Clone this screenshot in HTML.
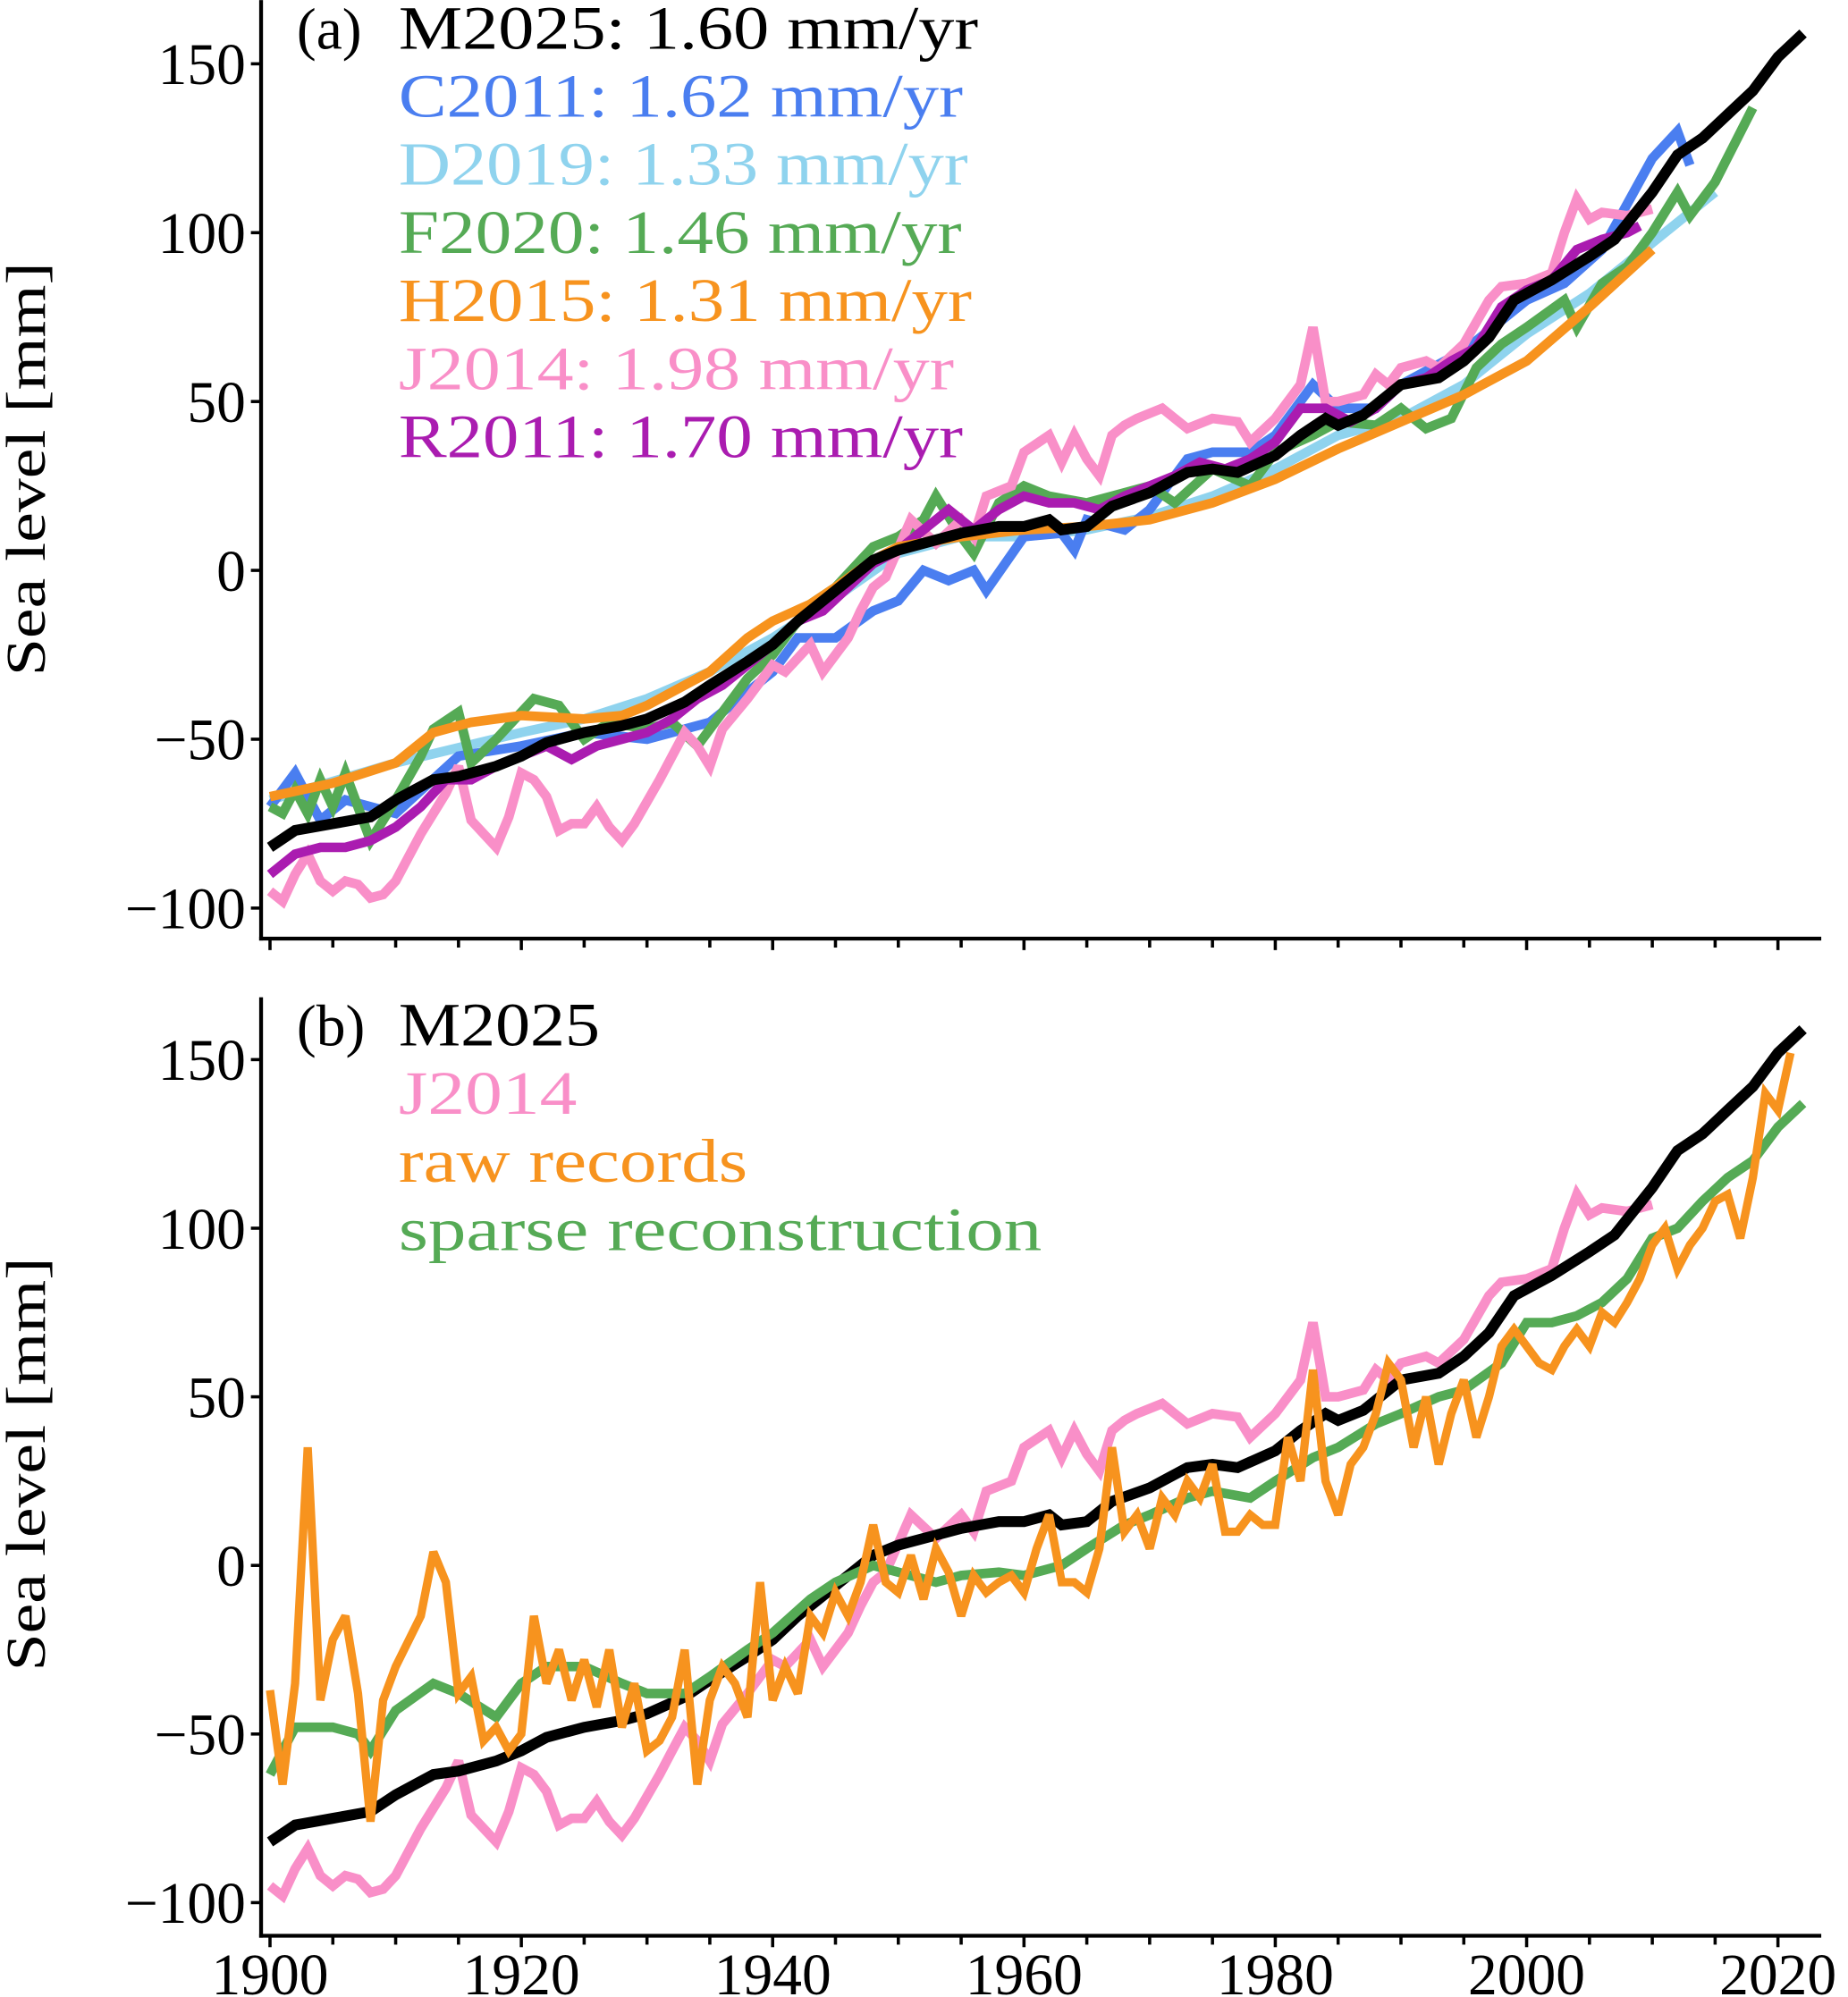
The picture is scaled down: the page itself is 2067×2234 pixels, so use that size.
<!DOCTYPE html>
<html><head><meta charset="utf-8"><style>
html,body{margin:0;padding:0;background:#fff;}
svg{display:block;}
text{font-family:"Liberation Serif","DejaVu Serif",serif;}
</style></head>
<body>
<svg id="chart" width="2067" height="2234" viewBox="0 0 1451 1568" xmlns="http://www.w3.org/2000/svg">
<g id="panelA"></g>
<g id="panelB"></g>
</svg>
<script>
// ---- data ----
const m2025Years=[1900,1902,1905,1908,1910,1913,1915,1918,1920,1922,1925,1928,1930,1933,1935,1938,1940,1942,1945,1948,1950,1953,1955,1958,1960,1962,1963,1965,1967,1970,1973,1975,1977,1980,1982,1984,1985,1987,1990,1993,1995,1997,1999,2002,2005,2007,2010,2012,2014,2016,2018,2020,2022];
const m2025Vals=[-82,-77,-75,-73,-68,-62,-61,-58,-55,-51,-48,-46,-44,-39,-34,-27,-22,-15,-6,3,6,9,11,13,13,15,12,13,19,23,29,30,29,34,40,45,43,46,55,57,62,69,80,86,93,98,112,123,128,135,142,152,159];
const c2011Years=[1900,1902,1904,1906,1910,1915,1920,1925,1930,1935,1940,1942,1945,1948,1950,1952,1954,1956,1957,1960,1963,1964,1965,1968,1970,1973,1975,1978,1980,1983,1985,1988,1990,1995,2000,2003,2006,2010,2012,2013];
const c2011Vals=[-70,-60,-74,-68,-72,-55,-52,-48,-50,-45,-30,-20,-20,-12,-9,0,-3,0,-6,10,11,6,15,12,18,33,35,35,40,55,48,48,55,65,80,85,95,122,130,120];
const d2019Years=[1900,1910,1920,1925,1930,1935,1940,1945,1950,1955,1960,1965,1970,1975,1980,1985,1990,1995,2000,2005,2010,2015];
const d2019Vals=[-68,-57,-48,-44,-38,-30,-20,-8,5,10,10,12,16,22,30,40,45,55,70,82,97,112];
const f2020Years=[1900,1901,1902,1903,1904,1905,1906,1908,1910,1912,1913,1915,1916,1918,1920,1921,1923,1925,1927,1930,1932,1934,1936,1938,1940,1943,1945,1948,1950,1952,1953,1955,1956,1958,1960,1962,1965,1967,1970,1972,1975,1978,1980,1983,1985,1988,1990,1992,1994,1996,1998,2000,2003,2004,2006,2008,2010,2012,2013,2015,2018];
const f2020Vals=[-70,-72,-65,-72,-62,-70,-60,-80,-68,-55,-47,-42,-57,-50,-42,-38,-40,-50,-45,-47,-45,-52,-42,-32,-25,-10,-5,7,10,15,22,10,5,20,25,22,20,22,25,20,30,25,35,40,44,43,48,42,45,60,67,72,80,72,85,90,100,112,105,115,137];
const h2015Years=[1900,1905,1910,1913,1916,1920,1925,1928,1930,1935,1938,1940,1943,1945,1948,1950,1955,1960,1965,1970,1975,1980,1985,1990,1995,2000,2005,2010];
const h2015Vals=[-67,-63,-57,-48,-45,-43,-44,-43,-40,-30,-20,-15,-10,-5,3,7,10,12,13,15,20,27,36,44,52,62,78,95];
const j2014Years=[1900,1901,1902,1903,1904,1905,1906,1907,1908,1909,1910,1912,1914,1915,1916,1918,1919,1920,1921,1922,1923,1924,1925,1926,1927,1928,1929,1931,1932,1933,1934,1935,1936,1938,1940,1941,1943,1944,1946,1947,1948,1949,1951,1953,1955,1956,1957,1959,1960,1962,1963,1964,1965,1966,1967,1968,1969,1971,1972,1973,1975,1977,1978,1980,1982,1983,1984,1985,1987,1988,1989,1990,1992,1993,1995,1997,1998,2000,2002,2003,2004,2005,2006,2008,2010];
const j2014Vals=[-95,-98,-90,-84,-92,-95,-92,-93,-97,-96,-92,-78,-66,-58,-74,-82,-73,-60,-62,-67,-77,-75,-75,-70,-76,-80,-75,-62,-55,-48,-52,-58,-47,-38,-28,-30,-22,-30,-20,-12,-5,-2,15,8,15,10,22,25,35,40,32,40,33,28,40,43,45,48,45,42,45,44,38,45,55,72,50,50,52,58,55,60,62,60,67,80,84,85,88,100,110,104,106,105,107];
const r2011Years=[1900,1902,1904,1906,1908,1910,1912,1914,1916,1918,1920,1922,1924,1926,1928,1930,1932,1934,1936,1938,1940,1942,1944,1946,1948,1950,1952,1954,1956,1958,1960,1962,1964,1966,1968,1970,1972,1974,1976,1978,1980,1982,1984,1986,1988,1990,1992,1994,1996,1998,2000,2002,2004,2006,2008,2009];
const r2011Vals=[-90,-84,-82,-82,-80,-76,-70,-62,-62,-58,-55,-52,-56,-52,-50,-48,-44,-38,-34,-28,-22,-15,-12,-5,2,6,12,18,12,18,22,20,20,18,22,25,28,32,30,33,38,48,48,44,48,55,57,62,66,78,83,86,95,98,100,102];
const sparseYears=[1900,1902,1905,1907,1908,1910,1913,1915,1918,1920,1922,1925,1928,1930,1933,1935,1938,1940,1943,1945,1948,1950,1953,1955,1958,1960,1963,1965,1968,1970,1973,1975,1978,1980,1983,1985,1988,1990,1993,1995,1998,2000,2002,2004,2006,2008,2010,2012,2014,2016,2018,2020,2022];
const sparseVals=[-62,-48,-48,-50,-55,-43,-35,-38,-45,-35,-30,-30,-35,-38,-38,-33,-25,-20,-10,-5,0,-2,-5,-3,-2,-3,0,5,12,15,20,22,20,25,32,35,42,45,50,52,60,72,72,74,78,85,97,100,108,115,120,130,137];
const rawYears=[1900,1901,1902,1903,1904,1905,1906,1907,1908,1909,1910,1912,1913,1914,1915,1916,1917,1918,1919,1920,1921,1922,1923,1924,1925,1926,1927,1928,1929,1930,1931,1932,1933,1934,1935,1936,1937,1938,1939,1940,1941,1942,1943,1944,1945,1946,1947,1948,1949,1950,1951,1952,1953,1954,1955,1956,1957,1958,1959,1960,1961,1962,1963,1964,1965,1966,1967,1968,1969,1970,1971,1972,1973,1974,1975,1976,1977,1978,1979,1980,1981,1982,1983,1984,1985,1986,1987,1988,1989,1990,1991,1992,1993,1994,1995,1996,1997,1998,1999,2000,2001,2002,2003,2004,2005,2006,2007,2008,2009,2010,2011,2012,2013,2014,2015,2016,2017,2018,2019,2020,2021];
const rawVals=[-37,-65,-35,35,-40,-22,-15,-38,-76,-40,-30,-15,4,-5,-38,-33,-52,-48,-55,-50,-15,-35,-25,-40,-28,-42,-25,-48,-35,-55,-52,-45,-25,-65,-40,-30,-35,-45,-5,-40,-30,-38,-15,-20,-8,-15,-5,12,-5,-8,3,-10,5,-2,-15,-3,-8,-5,-3,-8,5,15,-5,-5,-8,5,35,10,15,5,20,15,25,20,30,10,10,15,12,12,38,25,58,25,15,30,35,45,60,55,35,50,30,45,55,38,50,65,70,65,60,58,65,70,65,75,72,78,85,95,100,88,95,100,108,110,97,115,140,135,152];
const xTicks=[1900,1920,1940,1960,1980,2000,2020];
const yTicks=[-100,-50,0,50,100,150];
const yTickLabels=["\u2212100","\u221250","0","50","100","150"];

// ---- layout ----
const NS="http://www.w3.org/2000/svg";
const X0=212, XPY=(1396-212)/120;
function xScale(yr){return X0+(yr-1900)*XPY;}
function mk(parent,tag,attrs){const e=document.createElementNS(NS,tag);for(const k in attrs)e.setAttribute(k,attrs[k]);parent.appendChild(e);return e;}

function drawPanel(g,top,bottom,y150,yM100,series,legend,tag){
  const yScale=v=>yM100+(v+100)*(y150-yM100)/250;
  const left=205, right=1430;
  series.forEach(s=>{
    let d="";
    s.years.forEach((yr,i)=>{d+=(i?"L":"M")+xScale(yr).toFixed(1)+","+yScale(s.vals[i]).toFixed(1);});
    const p=mk(g,"path",{d:d,fill:"none",stroke:s.color,"stroke-width":s.w||7.5,"stroke-linejoin":"miter","stroke-miterlimit":3});
    
    
  });
  const ya=mk(g,"line",{x1:left,y1:top,x2:left,y2:bottom+1.5,stroke:"#000","stroke-width":3});
  
  
  const xa=mk(g,"line",{x1:left-1.5,y1:bottom,x2:right,y2:bottom,stroke:"#000","stroke-width":3});
  
  
  yTicks.forEach((v,i)=>{
    const y=yScale(v);
    mk(g,"line",{x1:left-8,y1:y,x2:left,y2:y,stroke:"#000","stroke-width":2.5});
    const t=mk(g,"text",{x:left-12,y:y+16,"text-anchor":"end","font-size":46});
    t.textContent=yTickLabels[i];
    
    
  });
  for(let yr=1900;yr<=2020;yr+=5){
    const x=xScale(yr);const major=yr%20===0;
    mk(g,"line",{x1:x,y1:bottom,x2:x,y2:bottom+(major?9:7),stroke:"#000","stroke-width":2.5});
  }
  const yl=mk(g,"text",{x:0,y:0,"text-anchor":"middle","font-size":44,textLength:325,lengthAdjust:"spacingAndGlyphs"});
  yl.setAttribute("transform",`translate(35,${yScale(30)}) rotate(-90)`);
  yl.textContent="Sea level [mm]";
  
  
  const lt=mk(g,"text",{x:233,y:top+legend.y0,"font-size":46});
  lt.textContent=tag;
  
  
  legend.items.forEach((it,i)=>{
    const t=mk(g,"text",{x:313,y:top+legend.y0+i*53.5,"font-size":48,fill:it.color,textLength:it.len,lengthAdjust:"spacingAndGlyphs"});
    t.textContent=it.text;
    
    
  });
}

const BLACK="#000",BLUE="#4a7ef0",LBLUE="#8fd3ee",GREEN="#55aa55",ORANGE="#f7931e",PINK="#f98fc8",PURPLE="#aa1cb0";
const A=document.getElementById("panelA"), B=document.getElementById("panelB");
drawPanel(A,0,737,50,713,[
  {name:"d2019-line",years:d2019Years,vals:d2019Vals,color:LBLUE},
  {name:"c2011-line",years:c2011Years,vals:c2011Vals,color:BLUE},
  {name:"f2020-line",years:f2020Years,vals:f2020Vals,color:GREEN},
  {name:"j2014-line",years:j2014Years,vals:j2014Vals,color:PINK},
  {name:"r2011-line",years:r2011Years,vals:r2011Vals,color:PURPLE},
  {name:"h2015-line",years:h2015Years,vals:h2015Vals,color:ORANGE},
  {name:"m2025-line",years:m2025Years,vals:m2025Vals,color:BLACK,w:8.5}
],{y0:38,items:[
  {text:"M2025: 1.60 mm/yr",color:BLACK,len:455},
  {text:"C2011: 1.62 mm/yr",color:BLUE,len:443},
  {text:"D2019: 1.33 mm/yr",color:LBLUE,len:447},
  {text:"F2020: 1.46 mm/yr",color:GREEN,len:442},
  {text:"H2015: 1.31 mm/yr",color:ORANGE,len:450},
  {text:"J2014: 1.98 mm/yr",color:PINK,len:436},
  {text:"R2011: 1.70 mm/yr",color:PURPLE,len:443}
]},"(a)");
drawPanel(B,783,1520,832,1494,[
  {name:"j2014-line",years:j2014Years,vals:j2014Vals,color:PINK},
  {name:"m2025-line",years:m2025Years,vals:m2025Vals,color:BLACK,w:8.5},
  {name:"sparse-reconstruction-line",years:sparseYears,vals:sparseVals,color:GREEN},
  {name:"raw-records-line",years:rawYears,vals:rawVals,color:ORANGE,w:6.5}
],{y0:38,items:[
  {text:"M2025",color:BLACK,len:158},
  {text:"J2014",color:PINK,len:140},
  {text:"raw records",color:ORANGE,len:274},
  {text:"sparse reconstruction",color:GREEN,len:505}
]},"(b)");
xTicks.forEach(yr=>{
  const t=mk(B,"text",{x:xScale(yr),y:1566,"text-anchor":"middle","font-size":46});
  t.textContent=String(yr);
  
  
});
</script>
</body></html>
